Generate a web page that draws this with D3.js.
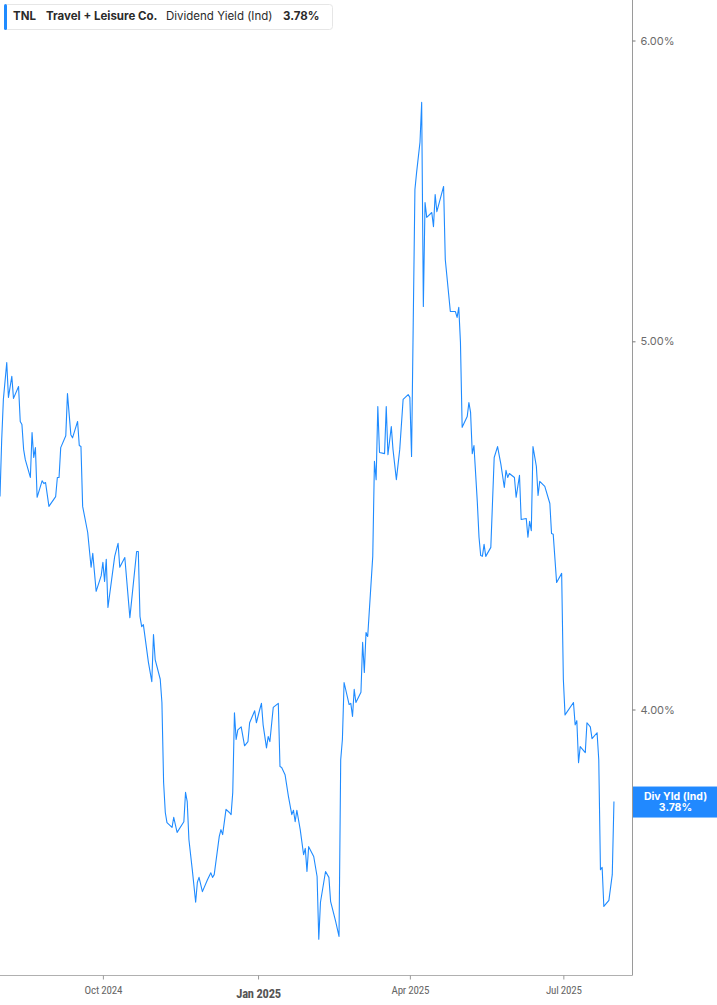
<!DOCTYPE html>
<html>
<head>
<meta charset="utf-8">
<script src="https://cdn.jsdelivr.net/npm/d3@7"></script>
<style>
  html, body { margin: 0; padding: 0; background: #fff; }
  svg { display: block; font-family: Inter, "Open Sans", Roboto, sans-serif; }
</style>
</head>
<body>
<svg id="chart" width="717" height="1005"></svg>
<script>
// ---- data ----
const dates = [
"2024-08-01","2024-08-02","2024-08-03","2024-08-05","2024-08-06","2024-08-08","2024-08-09","2024-08-12","2024-08-13","2024-08-14",
"2024-08-15","2024-08-16","2024-08-19","2024-08-20","2024-08-21","2024-08-22","2024-08-23","2024-08-26","2024-08-27","2024-08-28",
"2024-08-30","2024-09-03","2024-09-04","2024-09-05","2024-09-06","2024-09-09","2024-09-10","2024-09-12","2024-09-13","2024-09-16",
"2024-09-17","2024-09-18","2024-09-19","2024-09-22","2024-09-24","2024-09-25","2024-09-27","2024-09-30","2024-10-01","2024-10-02",
"2024-10-03","2024-10-04","2024-10-08","2024-10-10","2024-10-11","2024-10-14","2024-10-17","2024-10-21","2024-10-22","2024-10-23",
"2024-10-24","2024-10-25","2024-10-28","2024-10-30","2024-10-31","2024-11-01","2024-11-04","2024-11-05","2024-11-06","2024-11-07",
"2024-11-08","2024-11-11","2024-11-12","2024-11-14","2024-11-18","2024-11-19","2024-11-20","2024-11-21","2024-11-23","2024-11-25",
"2024-11-26","2024-11-27","2024-11-29","2024-12-02","2024-12-04","2024-12-05","2024-12-06","2024-12-09","2024-12-10","2024-12-11",
"2024-12-13","2024-12-15","2024-12-16","2024-12-17","2024-12-18","2024-12-19","2024-12-20","2024-12-22","2024-12-24","2024-12-26",
"2024-12-27","2024-12-30","2024-12-31","2025-01-02","2025-01-03","2025-01-04","2025-01-06","2025-01-07","2025-01-08","2025-01-10",
"2025-01-13","2025-01-14","2025-01-15","2025-01-17","2025-01-19","2025-01-21","2025-01-22","2025-01-23","2025-01-24","2025-01-26",
"2025-01-28","2025-01-29","2025-01-30","2025-01-31","2025-02-03","2025-02-05","2025-02-06","2025-02-07","2025-02-10","2025-02-12",
"2025-02-13","2025-02-16","2025-02-18","2025-02-19","2025-02-20","2025-02-21","2025-02-24","2025-02-25","2025-02-26","2025-02-27",
"2025-02-28","2025-03-03","2025-03-04","2025-03-05","2025-03-06","2025-03-07","2025-03-10","2025-03-11","2025-03-12","2025-03-13",
"2025-03-14","2025-03-17","2025-03-18","2025-03-19","2025-03-21","2025-03-22","2025-03-24","2025-03-26","2025-03-28","2025-03-31",
"2025-04-01","2025-04-02","2025-04-03","2025-04-04","2025-04-05","2025-04-07","2025-04-08","2025-04-09","2025-04-10","2025-04-11",
"2025-04-14","2025-04-15","2025-04-16","2025-04-17","2025-04-21","2025-04-22","2025-04-25","2025-04-28","2025-04-29","2025-04-30",
"2025-05-01","2025-05-02","2025-05-05","2025-05-06","2025-05-07","2025-05-08","2025-05-09","2025-05-11","2025-05-12","2025-05-13",
"2025-05-14","2025-05-15","2025-05-16","2025-05-19","2025-05-21","2025-05-23","2025-05-25","2025-05-27","2025-05-28","2025-05-29",
"2025-05-30","2025-06-02","2025-06-03","2025-06-05","2025-06-06","2025-06-09","2025-06-10","2025-06-11","2025-06-12","2025-06-13",
"2025-06-15","2025-06-16","2025-06-17","2025-06-20","2025-06-23","2025-06-24","2025-06-25","2025-06-27","2025-06-30","2025-07-01",
"2025-07-02","2025-07-07","2025-07-08","2025-07-09","2025-07-10","2025-07-11","2025-07-14","2025-07-15","2025-07-17","2025-07-18",
"2025-07-21","2025-07-22","2025-07-23","2025-07-24","2025-07-25","2025-07-28","2025-07-30","2025-07-31"
];
const yieldValues = [
4.551,4.710,4.827,4.936,4.833,4.895,4.830,4.865,4.763,4.754,
4.683,4.654,4.604,4.731,4.660,4.688,4.549,4.595,4.587,4.590,
4.524,4.551,4.604,4.604,4.688,4.722,4.844,4.725,4.716,4.763,
4.694,4.691,4.524,4.453,4.360,4.397,4.297,4.338,4.373,4.323,
4.381,4.255,4.389,4.424,4.360,4.386,4.229,4.402,4.402,4.232,
4.206,4.211,4.116,4.068,4.186,4.123,4.074,4.017,3.827,3.758,
3.735,3.724,3.747,3.713,3.737,3.804,3.783,3.697,3.630,3.559,
3.602,3.613,3.582,3.608,3.623,3.613,3.619,3.704,3.719,3.708,
3.765,3.758,3.753,3.804,3.992,3.928,3.951,3.958,3.913,3.923,
3.968,3.997,3.968,4.000,4.015,3.963,3.908,3.935,3.923,4.005,
4.015,3.864,3.862,3.845,3.795,3.753,3.763,3.737,3.763,3.719,
3.663,3.677,3.626,3.681,3.659,3.615,3.480,3.559,3.626,3.613,
3.561,3.518,3.486,3.880,3.928,4.066,4.012,4.015,3.983,4.049,
4.017,4.042,4.166,4.091,4.191,4.181,4.389,4.649,4.598,4.806,
4.674,4.671,4.806,4.668,4.748,4.683,4.598,4.683,4.827,4.841,
4.833,4.663,5.057,5.482,5.539,5.641,5.779,5.107,5.439,5.390,
5.406,5.360,5.465,5.409,5.492,5.254,5.091,5.091,5.073,5.104,
4.996,4.746,4.777,4.818,4.789,4.671,4.694,4.535,4.440,4.391,
4.389,4.421,4.389,4.413,4.660,4.691,4.640,4.576,4.624,4.604,
4.615,4.604,4.549,4.610,4.488,4.491,4.440,4.483,4.458,4.691,
4.635,4.554,4.593,4.579,4.532,4.450,4.448,4.320,4.344,4.074,
3.987,4.017,3.963,3.973,3.873,3.911,3.897,3.968,3.958,3.930,
3.944,3.880,3.630,3.635,3.550,3.563,3.619,3.783
];
const yTickValues = [4, 5, 6];
const xTickDates = ["2024-10-01", "2025-01-01", "2025-04-01", "2025-07-01"];
const xTickLabels = ["Oct 2024", "Jan 2025", "Apr 2025", "Jul 2025"];
const boldTickLabel = "Jan 2025";
const legendParts = [
  {text: "TNL", weight: 700},
  {text: "Travel + Leisure Co.", weight: 700},
  {text: "Dividend Yield (Ind)", weight: 400},
  {text: "3.78%", weight: 700}
];
const lastLabel = ["Div Yld (Ind)", "3.78%"];

// ---- layout ----
const W = 717, H = 1005;
const plotRight = 632.5, plotBottom = 975.5;
const lineColor = "#1f8bff";
const parse = d3.timeParse("%Y-%m-%d");
const data = dates.map((d, i) => ({date: parse(d), value: yieldValues[i]}));

const x = d3.scaleTime()
  .domain([parse("2024-08-01"), parse("2025-08-11")])
  .range([0, plotRight]);
const y = d3.scaleLog()
  .domain([4, 6])
  .range([709.5, 40.5]);

const svg = d3.select("#chart");

svg.append("defs").append("clipPath").attr("id", "plotClip")
  .append("rect").attr("x", 0).attr("y", 0).attr("width", plotRight).attr("height", plotBottom);

// line
const line = d3.line().x(d => x(d.date)).y(d => y(d.value));
svg.append("path")
  .datum(data)
  .attr("clip-path", "url(#plotClip)")
  .attr("fill", "none")
  .attr("stroke", lineColor)
  .attr("stroke-width", 1.1)
  .attr("stroke-linejoin", "round")
  .attr("d", line);

// frame lines (right and bottom)
svg.append("line")
  .attr("x1", plotRight).attr("x2", plotRight).attr("y1", 0).attr("y2", plotBottom)
  .attr("stroke", "#9a9a9a").attr("stroke-width", 1);
svg.append("line")
  .attr("x1", 0).attr("x2", plotRight).attr("y1", plotBottom).attr("y2", plotBottom)
  .attr("stroke", "#b0b0b0").attr("stroke-width", 1);

// right axis
const yAxis = d3.axisRight(y)
  .tickValues(yTickValues)
  .tickSize(3)
  .tickPadding(5)
  .tickFormat(d => d.toFixed(2) + "%");
const gy = svg.append("g").attr("transform", `translate(${plotRight},0)`).call(yAxis);
gy.select(".domain").remove();
gy.selectAll(".tick line").attr("stroke", "#777");
gy.selectAll(".tick text")
  .attr("fill", "#6b6b6b")
  .style("font-size", "11px")
  .style("font-family", "Inter, sans-serif");

// bottom axis
const xAxis = d3.axisBottom(x)
  .tickValues(xTickDates.map(parse))
  .tickSize(4)
  .tickPadding(7)
  .tickFormat((d, i) => xTickLabels[i]);
const gx = svg.append("g").attr("transform", `translate(0,${plotBottom})`).call(xAxis);
gx.select(".domain").remove();
gx.selectAll(".tick line").attr("stroke", "#999");
gx.selectAll(".tick text")
  .attr("fill", "#666")
  .style("font-size", "11px")
  .style("font-family", "'Roboto Condensed', 'Liberation Sans Narrow', Roboto, sans-serif")
  .style("letter-spacing", "-0.2px")
  .each(function(d, i) {
    if (xTickLabels[i] === boldTickLabel) {
      d3.select(this).style("font-weight", 700).style("font-size", "12.5px")
        .attr("fill", "#555").attr("dy", "0.88em");
    }
  });

// legend box
const lg = svg.append("g");
lg.append("rect")
  .attr("x", 4.5).attr("y", 4.5).attr("width", 328).attr("height", 25).attr("rx", 3)
  .attr("fill", "#fff").attr("stroke", "#e6e6e6");
lg.append("rect")
  .attr("x", 4).attr("y", 4).attr("width", 3).attr("height", 26).attr("rx", 1.5)
  .attr("fill", lineColor);
const legendX = [13, 46, 166, 283];
lg.selectAll("text.lg").data(legendParts).join("text")
  .attr("class", "lg")
  .attr("x", (d, i) => legendX[i])
  .attr("y", 20)
  .attr("fill", "#2b2b2b")
  .style("font-size", "11.5px")
  .style("font-weight", d => d.weight)
  .text(d => d.text);

// last value label
const lastVal = data[data.length - 1].value;
const ly = y(lastVal);
const lbl = svg.append("g");
lbl.append("rect")
  .attr("x", plotRight + 0.5).attr("y", ly - 15).attr("width", W - plotRight).attr("height", 31)
  .attr("fill", "#2189ff");
lbl.selectAll("text").data(lastLabel).join("text")
  .attr("x", 675.5)
  .attr("y", (d, i) => ly - 2 + i * 11.5)
  .attr("text-anchor", "middle")
  .attr("fill", "#fff")
  .style("font-size", "10.5px")
  .style("font-weight", 700)
  .text(d => d);
</script>
</body>
</html>
